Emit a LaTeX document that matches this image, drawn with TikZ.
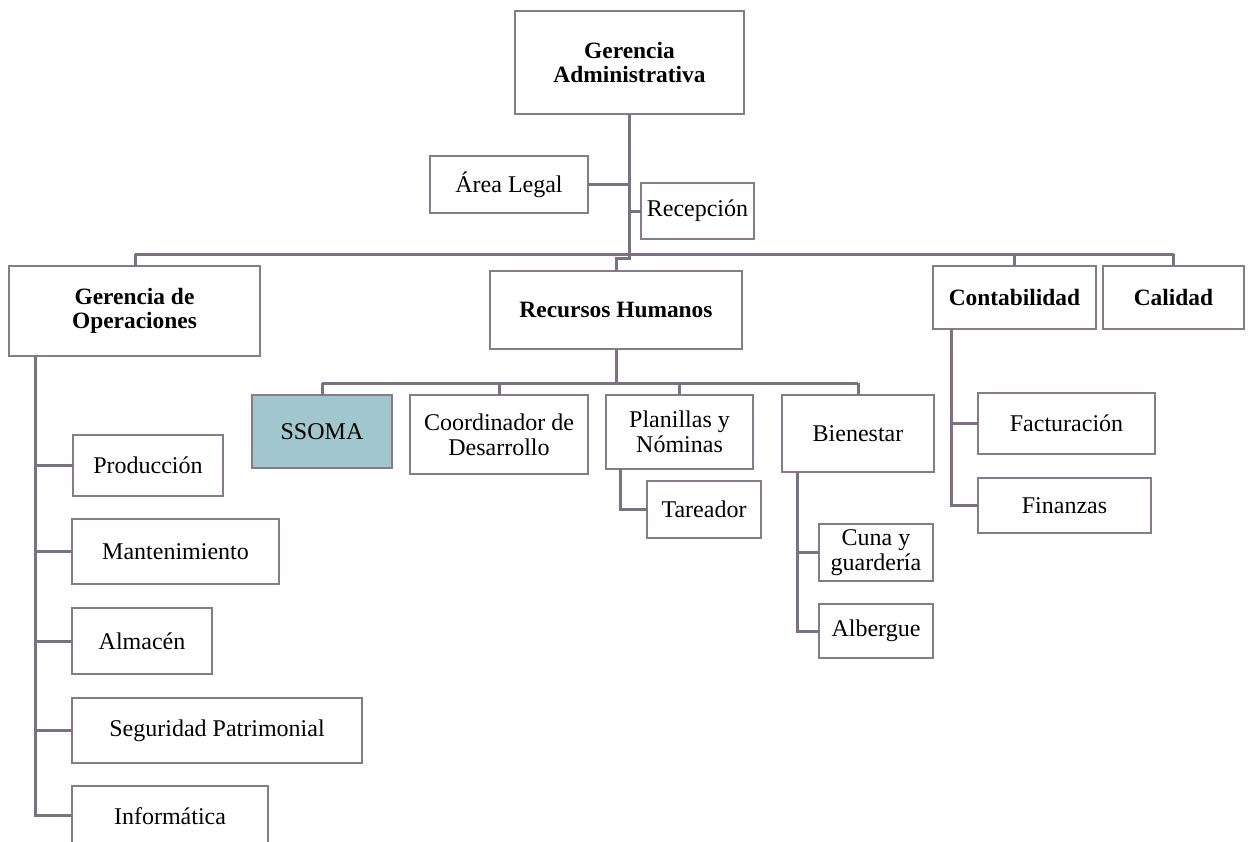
\documentclass[tikz,border=0pt]{standalone}
\usepackage{fontspec}
\setmainfont{Liberation Serif}
\definecolor{lineC}{RGB}{134,122,139}
\definecolor{busC}{RGB}{124,113,130}
\definecolor{ssomaC}{RGB}{160,199,205}
\newcommand\orgbox[7]{\node[box,#6,minimum width={(#4-#2)*0.5pt},minimum height={(#5-#3)*0.5pt}] (#1) at ({(#2+#4)/2},{(#3+#5)/2}) {#7};}
\tikzset{
  box/.style={draw=lineC, line width=1.25pt, fill=white, inner sep=0pt, outer sep=0pt, align=center, font=\fontsize{12}{12.4}\selectfont, text=black},
  boldbox/.style={font=\fontsize{11.7}{11.8}\selectfont\bfseries},
  conn/.style={draw=busC, line width=1.5pt}
}
\begin{document}
\begin{tikzpicture}[x=0.5pt,y=-0.5pt]
\path[use as bounding box] (0,0) rectangle (1248,841);
\clip (0,0) rectangle (1248,841);
% coordinates
\coordinate (busL) at (135,254);
\coordinate (busR) at (1174,254);
\coordinate (rhjog) at (616,258);
\coordinate (rhbusL) at (322,383);
\coordinate (rhbusR) at (858,383);
\coordinate (gopEnd) at (35,815);
\coordinate (planL) at (620,469);
\coordinate (bienL) at (797,472);
\coordinate (contL) at (951,329);
% boxes
\orgbox{ga}{515}{11}{744}{114}{boldbox}{Gerencia\\Administrativa}
\orgbox{legal}{430}{156}{588}{213}{}{Área Legal}
\orgbox{recep}{641}{183}{754}{239}{}{Recepción}
\orgbox{gop}{9}{266}{260}{356}{boldbox}{Gerencia de\\Operaciones}
\orgbox{rh}{490}{271}{742}{349}{boldbox}{Recursos Humanos}
\orgbox{cont}{933}{266}{1096}{329}{boldbox}{Contabilidad}
\orgbox{cal}{1103}{266}{1244}{329}{boldbox}{Calidad}
\orgbox{ssoma}{252}{395}{392}{468}{fill=ssomaC}{SSOMA}
\orgbox{coord}{410}{395}{588}{474}{}{Coordinador de\\Desarrollo}
\orgbox{plan}{606}{395}{753}{469}{}{Planillas y\\Nóminas}
\orgbox{tar}{647}{481}{761}{538}{}{Tareador}
\orgbox{bien}{782}{395}{934}{472}{}{Bienestar}
\orgbox{cuna}{819}{524}{933}{581}{}{Cuna y\\guardería}
\orgbox{alb}{819}{604}{933}{658}{}{Albergue}
\orgbox{fact}{978}{393}{1155}{454}{}{Facturación}
\orgbox{fin}{978}{478}{1151}{533}{}{Finanzas}
\orgbox{prod}{73}{435}{223}{496}{}{Producción}
\orgbox{mant}{72}{519}{279}{584}{}{Mantenimiento}
\orgbox{alm}{72}{608}{212}{674}{}{Almacén}
\orgbox{seg}{72}{698}{362}{763}{}{Seguridad Patrimonial}
\orgbox{inf}{72}{786}{268}{846}{}{Informática}
% connectors
\draw[conn] (ga.south) -- (ga.south |- busL);
\draw[conn] (legal.east) -- (legal.east -| ga.south);
\draw[conn] (recep.west) -- (recep.west -| ga.south);
\draw[conn] (busL) -- (busR);
\draw[conn] (busL) -- (busL |- gop.north);
\draw[conn] (ga.south |- busL) |- (rhjog) -- (rh.north);
\draw[conn] (cont.north) -- (cont.north |- busL);
\draw[conn] (cal.north) -- (cal.north |- busL);
\draw[conn] (rh.south) -- (rh.south |- rhbusL);
\draw[conn] (rhbusL) -- (rhbusR);
\draw[conn] (ssoma.north) -- (ssoma.north |- rhbusL);
\draw[conn] (coord.north) -- (coord.north |- rhbusL);
\draw[conn] (plan.north) -- (plan.north |- rhbusL);
\draw[conn] (bien.north) -- (bien.north |- rhbusL);
\draw[conn] (gop.south -| gopEnd) -- (gopEnd) -- (inf.west |- gopEnd);
\draw[conn] (prod.west) -- (prod.west -| gopEnd);
\draw[conn] (mant.west) -- (mant.west -| gopEnd);
\draw[conn] (alm.west) -- (alm.west -| gopEnd);
\draw[conn] (seg.west) -- (seg.west -| gopEnd);
\draw[conn] (planL) |- (tar.west);
\draw[conn] (bienL) |- (alb.west);
\draw[conn] (cuna.west) -- (cuna.west -| bienL);
\draw[conn] (contL) |- (fin.west);
\draw[conn] (fact.west) -- (fact.west -| contL);
\end{tikzpicture}
\end{document}
